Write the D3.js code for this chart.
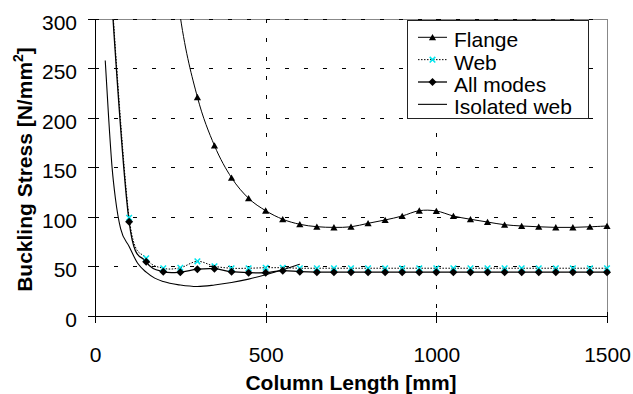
<!DOCTYPE html>
<html>
<head>
<meta charset="utf-8">
<script src="https://cdn.jsdelivr.net/npm/d3@7"></script>
<style>
  html, body { margin: 0; padding: 0; background: #fff; }
  svg { display: block; font-family: "Liberation Sans", Arial, sans-serif; }
</style>
</head>
<body>
<div id="chart"></div>
<script>
// column length [mm] and buckling stress [N/mm2]
const flangeLength = [200, 250, 300, 350, 400, 450, 500, 550, 600, 650, 700, 750, 800, 850, 900, 950, 1000, 1050, 1100, 1150, 1200, 1250, 1300, 1350, 1400, 1450, 1500];
const flangeStress = [450, 302, 221, 172, 139.5, 118.7, 106.2, 97.5, 92.4, 90, 89.3, 89.9, 93.4, 96.8, 100.8, 106.2, 105.9, 100.8, 97.5, 94.7, 92, 90.7, 89.9, 89.3, 89.3, 89.9, 90.7];

const modeLength = [50, 100, 150, 200, 250, 300, 350, 400, 450, 500, 550, 600, 650, 700, 750, 800, 850, 900, 950, 1000, 1050, 1100, 1150, 1200, 1250, 1300, 1350, 1400, 1450, 1500];
const webStress = [320, 99, 58, 48, 48.5, 55, 50, 48, 48, 48.5, 48.5, 48, 48, 48, 48, 48, 48, 48, 48, 48, 48, 48, 48, 48, 48, 48, 48, 48, 48, 48];
const allModesStress = [315, 95, 54.5, 44.5, 44, 47, 47.5, 44.5, 43.5, 43.5, 45.5, 44.5, 44, 44, 44, 44, 44, 44, 44, 44, 44, 44, 44, 44, 44, 44, 44, 44, 44, 44];

const isolatedLength = [30, 40, 50, 60, 75, 100, 125, 150, 175, 200, 250, 300, 350, 400, 450, 500, 550, 600];
const isolatedStress = [258, 200, 150, 118, 88, 70, 53, 44, 38, 34.5, 31, 29.5, 31, 33.5, 37, 41.5, 46.5, 52];

const xTicks = [0, 500, 1000, 1500];
const yTicks = [0, 50, 100, 150, 200, 250, 300];
const seriesNames = ['Flange', 'Web', 'All modes', 'Isolated web'];

class BucklingChart {
  constructor(id) {
    this.id = id;
    this.width = 633;
    this.height = 394;
    this.margin = { top: 19, right: 26, bottom: 78.3, left: 95 };
    this.fontSize = 21;
    this.svg = null;
    this.init();
  }

  init() {
    this.svg = d3.select(`#${this.id}`)
      .append('svg')
      .attr('width', this.width)
      .attr('height', this.height);

    this.x = d3.scaleLinear()
      .domain([0, 1500])
      .range([this.margin.left, this.width - this.margin.right]);
    this.y = d3.scaleLinear()
      .domain([0, 300])
      .range([this.height - this.margin.bottom, this.margin.top]);

    this.svg.append('clipPath')
      .attr('id', 'plotClip')
      .append('rect')
      .attr('x', this.x(0))
      .attr('y', this.y(300))
      .attr('width', this.x(1500) - this.x(0))
      .attr('height', this.y(0) - this.y(300));

    // series built from the arrays above
    const zip = (xs, ys) => xs.map((v, i) => ({ len: v, stress: ys[i] }));
    this.series = [
      { name: seriesNames[0], values: zip(flangeLength, flangeStress), marker: 'triangle', dash: null, width: 1, curve: d3.curveCardinal.tension(0) },
      { name: seriesNames[1], values: zip(modeLength, webStress), marker: 'cross', dash: '1.5,1.5', width: 1, curve: d3.curveCardinal.tension(0) },
      { name: seriesNames[2], values: zip(modeLength, allModesStress), marker: 'diamond', dash: null, width: 1.3, curve: d3.curveCardinal.tension(0) },
      { name: seriesNames[3], values: zip(isolatedLength, isolatedStress), marker: null, dash: null, width: 1.1, curve: d3.curveMonotoneX }
    ];
    return this;
  }

  render() {
    this.renderFrame();
    this.renderGrid();
    this.renderLines();
    this.renderMarkers();
    this.renderAxes();
    this.renderTitles();
    this.renderLegend();
    return this;
  }

  renderFrame() {
    this.svg.append('rect')
      .attr('x', this.x(0) + 0.5)
      .attr('y', this.y(300) + 0.5)
      .attr('width', this.x(1500) - this.x(0))
      .attr('height', this.y(0) - this.y(300))
      .attr('fill', '#fff')
      .attr('stroke', '#888')
      .attr('shape-rendering', 'crispEdges');
  }

  renderGrid() {
    const g = this.svg.append('g')
      .attr('stroke', '#000')
      .attr('stroke-width', 1)
      .attr('stroke-dasharray', '4,15')
      .attr('shape-rendering', 'crispEdges');
    g.selectAll('.hgrid')
      .data(yTicks.filter(d => d > 0))
      .join('line')
      .attr('class', 'hgrid')
      .attr('x1', this.x(0))
      .attr('x2', this.x(1500))
      .attr('y1', d => this.y(d) + 0.5)
      .attr('y2', d => this.y(d) + 0.5);
    g.selectAll('.vgrid')
      .data(xTicks.filter(d => d > 0 && d < 1500))
      .join('line')
      .attr('class', 'vgrid')
      .attr('x1', d => this.x(d) + 0.5)
      .attr('x2', d => this.x(d) + 0.5)
      .attr('y1', this.y(300))
      .attr('y2', this.y(0));
  }

  renderLines() {
    const g = this.svg.append('g').attr('clip-path', 'url(#plotClip)');
    g.selectAll('path')
      .data(this.series)
      .join('path')
      .attr('d', s => d3.line()
        .x(d => this.x(d.len))
        .y(d => this.y(d.stress))
        .curve(s.curve)(s.values))
      .attr('fill', 'none')
      .attr('stroke', '#000')
      .attr('stroke-width', s => s.width)
      .attr('stroke-dasharray', s => s.dash);
  }

  markerPath(type) {
    if (type === 'triangle') return 'M0,-3.3L3.6,3L-3.6,3Z';
    if (type === 'diamond') return 'M0,-4L4,0L0,4L-4,0Z';
    if (type === 'cross') return 'M-2.8,-2.8L2.8,2.8M-2.8,2.8L2.8,-2.8';
    return null;
  }

  drawMarker(sel, type) {
    sel.append('path')
      .attr('d', this.markerPath(type))
      .attr('fill', type === 'cross' ? 'none' : '#000')
      .attr('stroke', type === 'cross' ? '#00e5ee' : 'none')
      .attr('stroke-width', 1.5);
  }

  renderMarkers() {
    const self = this;
    this.series.filter(s => s.marker).forEach(s => {
      this.svg.append('g')
        .selectAll('g')
        .data(s.values.filter(d => d.stress <= 300))
        .join('g')
        .attr('transform', d => `translate(${this.x(d.len)},${this.y(d.stress)})`)
        .each(function () { self.drawMarker(d3.select(this), s.marker); });
    });
  }

  renderAxes() {
    const font = this.fontSize;
    const yAxis = this.svg.append('g')
      .attr('transform', `translate(${this.x(0)},0)`)
      .call(d3.axisLeft(this.y).tickValues(yTicks).tickFormat(d3.format('d'))
        .tickSizeOuter(0).tickSizeInner(7).tickPadding(11));
    yAxis.selectAll('.tick line').attr('x1', 3);
    yAxis.selectAll('.tick text').attr('dy', '0.35em').attr('y', 3);

    const xAxis = this.svg.append('g')
      .attr('transform', `translate(0,${this.y(0)})`)
      .call(d3.axisBottom(this.x).tickValues(xTicks).tickFormat(d3.format('d'))
        .tickSizeOuter(0).tickSizeInner(7.4).tickPadding(23.6));
    xAxis.selectAll('.tick line').attr('y1', -3.6);

    [yAxis, xAxis].forEach(a => {
      a.attr('font-size', font)
        .attr('font-family', '"Liberation Sans", Arial, sans-serif')
        .attr('shape-rendering', 'crispEdges');
      a.selectAll('.tick text').attr('fill', '#000');
      a.select('.domain').attr('stroke', '#000');
    });
  }

  renderTitles() {
    this.svg.append('text')
      .attr('x', (this.x(0) + this.x(1500)) / 2)
      .attr('y', 389.5)
      .attr('text-anchor', 'middle')
      .attr('font-size', this.fontSize)
      .attr('font-weight', 'bold')
      .text('Column Length [mm]');

    const yt = this.svg.append('text')
      .attr('transform', 'translate(32,169.5) rotate(-90)')
      .attr('text-anchor', 'middle')
      .attr('font-size', this.fontSize)
      .attr('font-weight', 'bold');
    yt.append('tspan').text('Buckling Stress [N/mm');
    yt.append('tspan').attr('font-size', 14).attr('dy', -9).text('2');
    yt.append('tspan').attr('dy', 9).text(']');
  }

  renderLegend() {
    const self = this;
    const lg = this.svg.append('g');
    lg.append('rect')
      .attr('x', 407.5)
      .attr('y', 20.5)
      .attr('width', 181)
      .attr('height', 98)
      .attr('fill', '#fff')
      .attr('stroke', '#222')
      .attr('shape-rendering', 'crispEdges');

    const rows = lg.selectAll('.row')
      .data(this.series)
      .join('g')
      .attr('class', 'row')
      .attr('transform', (d, i) => `translate(0,${37.3 + i * 22.35})`);
    rows.append('line')
      .attr('x1', 418)
      .attr('x2', 447)
      .attr('stroke', '#000')
      .attr('stroke-width', s => s.width)
      .attr('stroke-dasharray', s => s.dash);
    rows.filter(s => s.marker)
      .append('g')
      .attr('transform', 'translate(432.5,0)')
      .each(function (s) { self.drawMarker(d3.select(this), s.marker); });
    rows.append('text')
      .attr('x', 454)
      .attr('y', 10)
      .attr('font-size', this.fontSize)
      .attr('fill', '#000')
      .text(s => s.name);
  }
}

new BucklingChart('chart').render();
</script>
</body>
</html>
